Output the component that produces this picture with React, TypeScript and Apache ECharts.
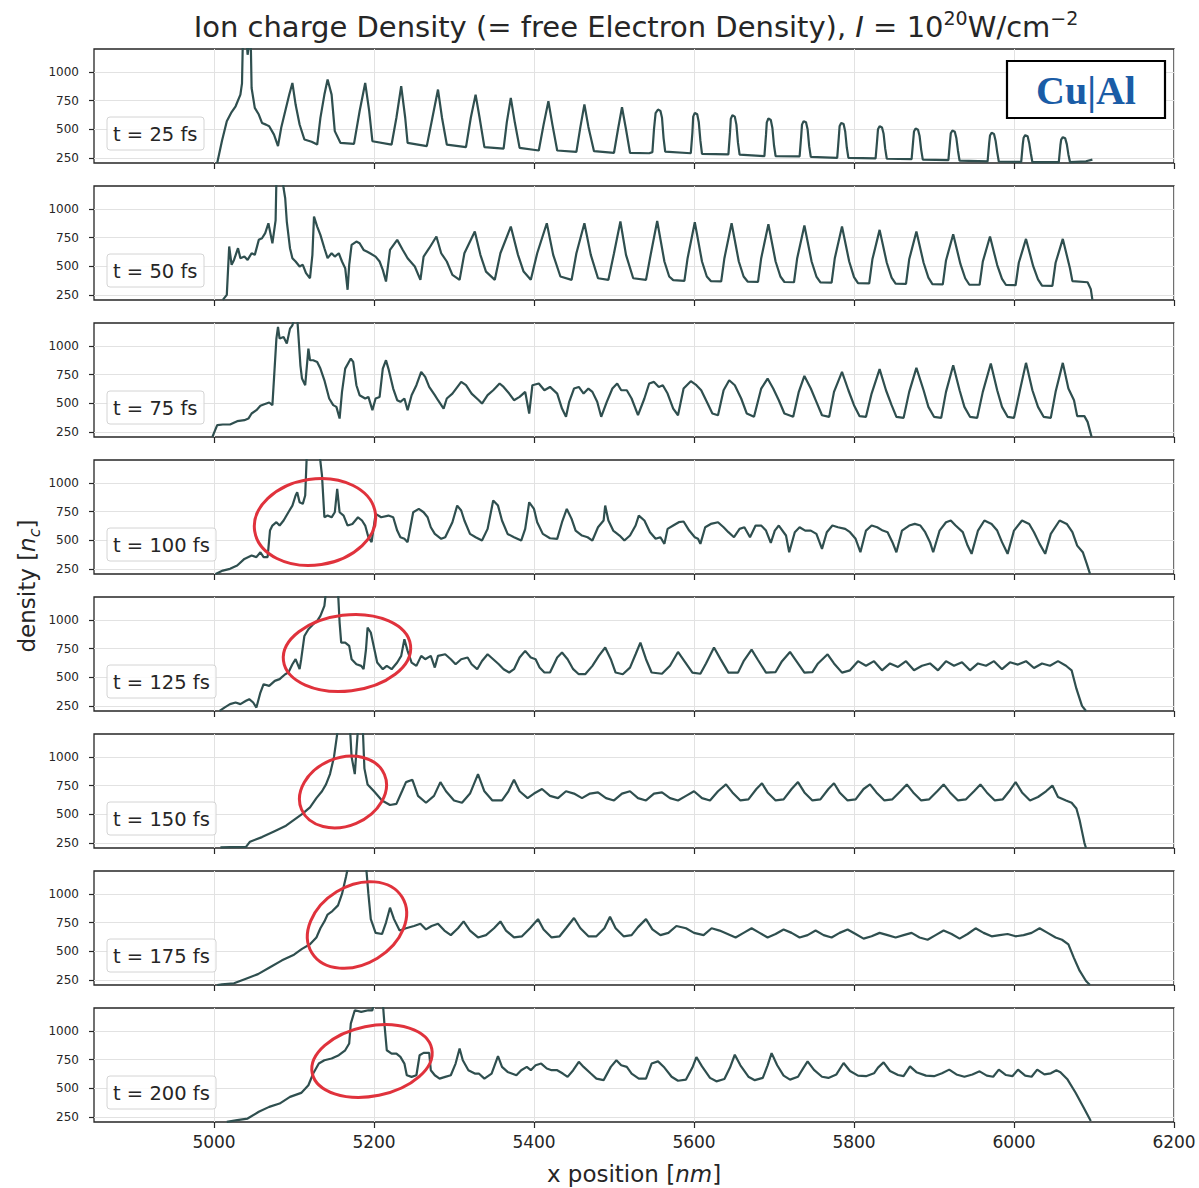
import React, { useEffect, useRef } from 'react';
import * as echarts from 'echarts';

const xTicks = [5000, 5200, 5400, 5600, 5800, 6000, 6200];
const yTicks = [250, 500, 750, 1000];
const timeLabels = ['t = 25 fs', 't = 50 fs', 't = 75 fs', 't = 100 fs', 't = 125 fs', 't = 150 fs', 't = 175 fs', 't = 200 fs'];

const t25: number[][] = [
  [5004,205],[5010,400],[5016,570],[5022,650],[5027,700],[5033,802],[5035,900],[5036,1250],[5041,1250],[5042,1150],[5044,1250],[5046,1250],[5047,860],[5051,686],[5056,628],[5060,555],[5065,540],[5069,526],[5075,453],[5080,352],[5084,512],[5089,657],[5094,800],[5098,904],[5102,715],[5107,541],[5113,410],[5122,390],[5129,366],[5133,599],[5138,802],[5142,933],[5147,802],[5151,483],[5158,381],[5175,372],[5182,657],[5189,904],[5194,657],[5198,395],[5222,366],[5228,600],[5234,875],[5239,600],[5242,381],[5266,352],[5273,600],[5280,846],[5285,600],[5291,366],[5315,343],[5321,600],[5327,802],[5332,600],[5338,343],[5362,331],[5366,560],[5371,773],[5376,560],[5382,337],[5406,314],[5412,540],[5418,744],[5423,540],[5429,314],[5453,302],[5458,520],[5463,715],[5468,520],[5475,308],[5500,294],[5505,500],[5510,692],[5515,500],[5520,294],[5544,290],
  [5548,300],[5550,500],[5552,640],[5555,672],[5558,660],[5560,600],[5562,420],[5564,305],
  [5596,290],[5598,470],[5599,610],[5601,642],[5604,630],[5606,560],[5608,400],[5610,285],
  [5643,280],[5645,470],[5646,590],[5648,622],[5651,610],[5653,540],[5655,380],[5657,278],
  [5688,265],[5690,450],[5691,560],[5693,593],[5696,580],[5698,510],[5700,360],[5702,265],
  [5732,262],[5734,440],[5735,540],[5737,570],[5740,560],[5742,500],[5744,350],[5746,258],
  [5779,250],[5781,430],[5782,525],[5784,555],[5787,545],[5789,480],[5791,340],[5793,250],
  [5827,245],[5829,410],[5830,500],[5832,526],[5835,515],[5837,460],[5839,330],[5841,242],
  [5872,238],[5874,400],[5875,480],[5877,506],[5880,495],[5882,440],[5884,320],[5886,235],
  [5918,230],[5920,390],[5921,465],[5923,488],[5926,478],[5928,420],[5930,310],[5932,225],
  [5967,220],[5969,380],[5970,445],[5972,468],[5975,458],[5977,400],[5979,300],[5981,218],
  [6009,214],[6011,370],[6012,425],[6014,448],[6017,438],[6019,380],[6021,290],[6023,212],
  [6056,212],[6058,360],[6059,410],[6061,430],[6064,420],[6066,370],[6068,280],[6070,213],
  [6090,220],[6098,235]
];

const t50: number[][] = [
  [5011,206],[5016,250],[5019,672],[5022,512],[5025,555],[5030,657],[5033,570],[5038,584],[5042,555],[5047,613],[5051,599],[5056,730],[5060,744],[5064,788],[5068,875],[5073,700],[5077,900],[5078,1250],[5086,1250],[5087,1180],[5089,1093],[5091,890],[5095,657],[5098,570],[5102,541],[5107,497],[5111,512],[5115,439],[5120,395],[5123,599],[5125,933],[5129,846],[5133,773],[5138,657],[5142,570],[5147,613],[5151,584],[5156,613],[5160,541],[5164,483],[5167,294],[5169,512],[5172,686],[5178,715],[5182,700],[5187,642],[5191,628],[5195,613],[5202,584],[5207,541],[5211,468],[5215,366],[5220,642],[5229,730],[5236,642],[5242,570],[5251,497],[5258,381],[5262,584],[5269,657],[5278,759],[5284,613],[5291,541],[5298,424],[5307,381],[5313,613],[5326,802],[5333,599],[5340,453],[5351,381],[5358,613],[5371,846],[5380,599],[5387,453],[5396,381],[5404,613],[5416,875],[5424,599],[5433,410],[5447,381],[5453,613],[5463,875],[5471,599],[5480,395],[5493,381],[5500,613],[5508,890],[5515,599],[5524,395],[5540,381],
  [5545,570],[5554,895],[5563,541],[5569,410],[5574,378],[5588,372],[5592,570],[5601,884],[5610,541],[5616,410],[5621,370],[5634,368],[5638,570],[5647,875],[5656,541],[5662,410],[5667,366],[5680,364],[5684,570],[5693,866],[5702,541],[5708,410],[5713,362],[5725,360],[5729,570],[5738,855],[5747,541],[5753,410],[5758,358],[5772,356],[5776,570],[5785,846],[5794,541],[5800,405],[5805,352],[5819,350],[5823,560],[5832,817],[5841,530],[5847,400],[5852,348],[5865,346],[5869,560],[5878,802],[5887,530],[5893,400],[5898,344],[5911,342],[5915,550],[5924,779],[5933,520],[5939,395],[5944,340],[5957,338],[5961,540],[5970,759],[5979,510],[5985,390],[5990,336],[6002,334],[6006,530],[6015,738],[6024,500],[6030,385],[6035,330],[6048,328],[6052,530],[6061,738],[6070,480],[6073,370],[6092,360],[6096,300],[6098,206]
];

const t75: number[][] = [
  [4998,206],[5004,308],[5011,314],[5020,314],[5029,343],[5038,352],[5043,366],[5047,410],[5053,439],[5058,477],[5062,488],[5069,506],[5073,483],[5078,1064],[5080,1166],[5082,1064],[5087,1078],[5091,1020],[5095,1151],[5098,1180],[5101,1250],[5104,1250],[5108,831],[5110,715],[5114,657],[5118,977],[5120,875],[5124,875],[5129,860],[5133,802],[5138,700],[5144,541],[5149,483],[5153,468],[5157,366],[5160,599],[5164,802],[5171,890],[5174,860],[5178,657],[5182,570],[5189,541],[5193,555],[5198,439],[5202,541],[5207,555],[5211,802],[5215,875],[5218,802],[5224,628],[5229,526],[5233,512],[5238,541],[5242,439],[5247,570],[5253,657],[5259,773],[5264,730],[5269,642],[5276,570],[5280,526],[5287,453],[5291,541],[5298,584],[5309,686],[5315,657],[5322,584],[5331,526],[5335,497],[5342,570],[5349,613],[5357,672],[5362,642],[5369,584],[5375,526],[5382,555],[5389,599],[5394,410],[5398,657],[5406,672],[5413,613],[5420,642],[5429,584],[5435,453],[5440,381],[5444,512],[5450,628],[5456,642],[5462,584],[5468,628],[5473,599],[5479,512],[5484,381],[5491,512],[5498,628],[5504,672],[5509,613],[5516,613],[5522,541],[5530,395],[5538,541],
  [5544,672],[5550,686],[5556,642],[5561,657],[5567,584],[5574,453],[5580,395],[5587,628],[5596,692],[5603,657],[5609,613],[5616,512],[5623,410],[5630,395],[5637,613],[5644,700],[5651,657],[5659,541],[5666,410],[5675,381],[5684,628],[5692,715],[5699,628],[5706,526],[5713,410],[5724,381],[5731,599],[5738,738],[5746,628],[5753,512],[5760,395],[5769,381],[5775,599],[5785,773],[5793,613],[5800,483],[5807,387],[5815,381],[5822,584],[5832,797],[5840,613],[5847,483],[5853,381],[5862,372],[5869,599],[5878,808],[5887,613],[5893,468],[5900,381],[5909,372],[5915,599],[5924,831],[5932,613],[5938,468],[5945,381],[5954,372],[5961,599],[5971,846],[5979,613],[5985,468],[5992,381],[6000,372],[6007,599],[6015,852],[6023,613],[6030,468],[6037,381],[6046,372],[6052,599],[6061,852],[6068,628],[6075,526],[6079,387],[6088,387],[6092,337],[6097,206]
];

const t100: number[][] = [
  [5002,206],[5011,235],[5020,250],[5029,279],[5038,337],[5047,366],[5053,352],[5058,395],[5062,352],[5067,352],[5070,584],[5073,628],[5078,657],[5082,628],[5087,672],[5093,744],[5098,802],[5102,890],[5104,919],[5107,831],[5111,817],[5114,890],[5116,1250],[5120,1250],[5132,1250],[5135,1064],[5138,700],[5142,715],[5147,700],[5151,744],[5154,948],[5157,744],[5162,715],[5167,628],[5173,642],[5180,700],[5185,672],[5189,628],[5193,526],[5197,483],[5202,730],[5209,700],[5218,715],[5224,700],[5229,584],[5233,526],[5238,512],[5242,483],[5249,744],[5256,773],[5262,744],[5267,700],[5271,613],[5276,555],[5284,512],[5289,526],[5298,657],[5304,802],[5309,759],[5313,672],[5320,555],[5327,526],[5335,497],[5342,599],[5349,846],[5355,802],[5360,672],[5367,555],[5375,526],[5384,497],[5389,599],[5394,831],[5400,773],[5404,657],[5411,555],[5420,517],[5429,512],[5435,657],[5441,773],[5447,686],[5452,584],[5460,541],[5467,526],[5473,497],[5480,613],[5487,672],[5489,802],[5493,672],[5499,584],[5507,541],[5513,497],[5520,541],[5527,628],[5531,715],[5538,672],
  [5545,570],[5552,512],[5558,526],[5563,468],[5567,599],[5574,628],[5581,657],[5587,663],[5594,584],[5601,526],[5605,512],[5608,468],[5614,613],[5621,642],[5630,657],[5637,613],[5643,570],[5650,526],[5657,599],[5663,613],[5670,526],[5677,628],[5684,628],[5690,584],[5696,477],[5701,584],[5706,628],[5715,541],[5719,395],[5726,570],[5732,613],[5739,584],[5746,584],[5753,555],[5760,424],[5766,570],[5773,628],[5780,613],[5789,599],[5795,570],[5802,512],[5808,395],[5815,584],[5822,628],[5829,613],[5836,584],[5842,570],[5848,483],[5853,395],[5860,584],[5869,628],[5876,642],[5883,628],[5889,570],[5895,483],[5899,395],[5907,584],[5915,657],[5921,672],[5927,628],[5936,570],[5942,453],[5947,381],[5955,584],[5963,672],[5972,642],[5979,584],[5985,483],[5992,381],[6000,584],[6010,672],[6019,642],[6025,570],[6032,468],[6039,381],[6046,555],[6057,672],[6066,642],[6073,570],[6079,453],[6086,395],[6091,294],[6095,206]
];

const t125: number[][] = [
  [5007,206],[5013,235],[5020,265],[5027,279],[5033,265],[5040,294],[5044,308],[5049,279],[5053,235],[5058,366],[5062,439],[5069,424],[5076,468],[5082,483],[5089,526],[5093,541],[5098,613],[5102,657],[5107,570],[5109,657],[5113,860],[5118,919],[5124,962],[5129,991],[5133,1035],[5138,1122],[5140,1250],[5155,1250],[5157,977],[5159,802],[5164,802],[5169,773],[5172,657],[5178,613],[5184,599],[5187,570],[5190,744],[5192,933],[5196,890],[5200,759],[5204,628],[5211,570],[5216,599],[5222,570],[5229,628],[5234,686],[5238,831],[5242,730],[5247,628],[5253,599],[5259,686],[5264,657],[5271,686],[5276,584],[5280,686],[5289,700],[5296,657],[5302,613],[5309,657],[5317,672],[5322,613],[5329,570],[5335,642],[5342,700],[5349,657],[5356,613],[5362,570],[5369,541],[5375,570],[5382,672],[5389,730],[5396,672],[5402,657],[5407,584],[5413,541],[5420,541],[5429,672],[5435,715],[5442,657],[5449,570],[5456,526],[5464,526],[5473,599],[5481,686],[5489,759],[5496,657],[5502,541],[5511,526],[5520,584],[5527,700],[5533,802],[5540,657],[5547,541],
  [5560,530],[5570,600],[5580,720],[5588,640],[5598,540],[5608,530],[5615,620],[5625,760],[5633,660],[5643,540],[5655,540],[5662,640],[5672,740],[5680,650],[5690,540],[5702,545],[5710,640],[5720,720],[5728,640],[5738,540],[5748,545],[5755,620],[5767,700],[5775,620],[5785,540],[5795,560],[5805,640],[5815,600],[5825,640],[5835,560],[5845,620],[5855,590],[5865,640],[5875,560],[5885,600],[5895,620],[5905,560],[5915,640],[5925,600],[5935,630],[5945,560],[5955,620],[5965,600],[5975,640],[5985,570],[5995,630],[6005,610],[6015,640],[6025,580],[6035,620],[6045,600],[6055,640],[6065,600],[6072,560],[6078,400],[6085,250],[6090,205]
];

const t150: number[][] = [
  [5008,210],[5020,212],[5040,215],[5045,260],[5060,300],[5075,350],[5090,400],[5100,450],[5110,500],[5120,560],[5128,640],[5135,700],[5140,760],[5145,850],[5150,1000],[5155,1250],[5170,1250],[5172,1000],[5176,850],[5180,1250],[5186,1250],[5188,900],[5192,760],[5200,700],[5210,620],[5220,580],[5228,590],[5235,700],[5240,780],[5248,800],[5255,660],[5265,600],[5275,660],[5283,780],[5290,700],[5300,620],[5310,600],[5320,680],[5330,850],[5338,700],[5348,620],[5360,620],[5368,700],[5375,800],[5382,700],[5392,640],[5400,680],[5410,720],[5420,660],[5430,640],[5440,700],[5450,680],[5460,640],[5470,680],[5480,690],[5490,640],[5500,620],[5510,680],[5520,700],[5530,640],[5540,620],[5550,680],[5560,690],[5570,640],[5580,620],[5590,660],[5600,700],[5610,640],[5620,620],[5630,700],[5640,760],[5648,690],[5658,620],[5668,630],[5678,720],[5685,770],[5692,690],[5702,620],[5712,630],[5722,720],[5730,780],[5738,690],[5748,620],[5758,630],[5768,720],[5775,770],[5782,690],[5792,620],[5802,630],[5812,720],[5820,760],[5828,690],[5838,620],[5848,630],[5858,700],[5866,760],[5874,690],[5884,620],[5894,630],[5904,700],[5912,760],[5920,690],[5930,620],[5940,630],[5950,700],[5958,760],[5966,690],[5976,620],[5986,630],[5994,700],[6002,780],[6010,690],[6020,620],[6030,650],[6040,700],[6048,750],[6055,650],[6065,620],[6072,600],[6078,550],[6082,450],[6085,350],[6088,250],[6090,205]
];

const t175: number[][] = [
  [5004,205],[5010,210],[5025,220],[5040,260],[5055,300],[5070,360],[5085,420],[5100,470],[5110,520],[5120,560],[5128,620],[5133,700],[5138,760],[5142,820],[5148,850],[5155,900],[5160,1000],[5165,1150],[5168,1250],[5190,1250],[5193,1000],[5196,780],[5202,660],[5210,650],[5215,750],[5220,880],[5225,780],[5232,680],[5240,700],[5250,720],[5258,740],[5265,690],[5272,720],[5280,740],[5288,680],[5296,640],[5305,700],[5312,760],[5320,680],[5330,620],[5340,640],[5350,700],[5358,760],[5365,680],[5375,620],[5385,630],[5395,700],[5405,780],[5412,690],[5422,620],[5432,630],[5440,700],[5450,790],[5458,700],[5468,630],[5478,630],[5488,700],[5495,800],[5502,700],[5512,630],[5522,640],[5530,710],[5540,780],[5548,690],[5558,640],[5568,660],[5578,720],[5590,700],[5600,660],[5612,640],[5622,700],[5632,680],[5642,650],[5652,620],[5662,660],[5672,700],[5682,660],[5692,620],[5702,650],[5712,690],[5722,660],[5732,620],[5742,640],[5752,680],[5762,640],[5772,620],[5782,660],[5792,690],[5802,650],[5812,610],[5822,630],[5832,660],[5842,640],[5852,620],[5862,640],[5872,660],[5882,620],[5892,600],[5902,640],[5912,680],[5922,650],[5932,610],[5942,650],[5952,700],[5962,660],[5972,630],[5982,640],[5992,650],[6002,630],[6012,640],[6022,660],[6032,700],[6042,660],[6052,620],[6060,600],[6068,560],[6075,440],[6082,330],[6090,240],[6095,205]
];

const t200: number[][] = [
  [5016,206],[5029,221],[5042,235],[5056,294],[5069,337],[5082,366],[5095,424],[5109,459],[5118,526],[5124,628],[5131,715],[5138,744],[5147,759],[5156,788],[5164,831],[5169,890],[5171,1064],[5176,1180],[5184,1166],[5193,1180],[5198,1180],[5200,1250],[5211,1250],[5213,1064],[5216,831],[5222,802],[5228,802],[5233,773],[5238,715],[5241,613],[5247,599],[5253,613],[5257,788],[5262,808],[5269,808],[5271,657],[5276,613],[5282,584],[5289,599],[5296,613],[5302,715],[5307,846],[5311,744],[5318,657],[5326,628],[5331,628],[5338,584],[5347,628],[5355,779],[5360,686],[5367,642],[5378,613],[5384,657],[5391,686],[5396,657],[5402,700],[5409,715],[5416,672],[5422,657],[5429,657],[5436,628],[5442,599],[5449,657],[5456,730],[5462,686],[5471,628],[5478,584],[5487,570],[5496,686],[5503,744],[5509,700],[5516,686],[5522,628],[5531,584],[5540,584],[5547,715],
  [5555,734],[5563,680],[5572,600],[5580,565],[5590,575],[5598,680],[5603,772],[5610,690],[5620,590],[5628,560],[5638,580],[5645,680],[5651,792],[5658,700],[5668,600],[5676,570],[5686,590],[5692,700],[5697,806],[5704,700],[5712,610],[5720,575],[5730,600],[5737,680],[5742,734],[5750,660],[5760,600],[5768,590],[5778,620],[5787,720],[5795,650],[5805,610],[5815,605],[5825,630],[5830,680],[5837,725],[5845,650],[5855,615],[5862,605],[5870,691],[5878,640],[5890,610],[5900,605],[5910,630],[5919,662],[5928,620],[5938,600],[5948,620],[5957,647],[5966,610],[5974,600],[5981,662],[5990,615],[5998,605],[6005,662],[6014,610],[6022,600],[6029,662],[6038,620],[6046,630],[6053,656],[6058,640],[6067,575],[6077,460],[6086,344],[6096,214]
];

const panels = [t25, t50, t75, t100, t125, t150, t175, t200];

export default function App() {
  const ref = useRef<HTMLDivElement>(null);
  useEffect(() => {
    const chart = echarts.init(ref.current as HTMLDivElement, null, { renderer: 'svg' });
    const tops = [49, 186, 323, 460, 597, 734, 871, 1008];
    const H = 114;
    const font = 'DejaVu Sans';
    const ink = '#262626';
    const plain = (v: number) => String(v);
    const grid = tops.map((t) => ({
      left: 94, top: t, width: 1080, height: H, show: true,
      borderColor: ink, borderWidth: 1.3, backgroundColor: '#fff', containLabel: false,
    }));
    const xAxis = tops.map((t, i) => ({
      type: 'value', gridIndex: i, min: 4850, max: 6200,
      axisLine: { show: false },
      axisTick: { show: true, customValues: xTicks, length: 6, lineStyle: { color: ink, width: 1.2 } },
      axisLabel: { show: i === 7, customValues: xTicks, formatter: plain, fontSize: 17, color: ink, fontFamily: font, margin: 11 },
      splitLine: { show: true, lineStyle: { color: '#e2e2e2', width: 1 } },
    }));
    const yAxis = tops.map((t, i) => ({
      type: 'value', gridIndex: i, min: 205, max: 1200,
      axisLine: { show: false },
      axisTick: { show: true, customValues: yTicks, length: 5, lineStyle: { color: ink, width: 1.2 } },
      axisLabel: { customValues: yTicks, formatter: plain, fontSize: 12, color: ink, fontFamily: font, margin: 15 },
      splitLine: { show: true, lineStyle: { color: '#e2e2e2', width: 1 } },
    }));
    const series = panels.map((d, i) => ({
      type: 'line', xAxisIndex: i, yAxisIndex: i, data: d, showSymbol: false, symbol: 'none',
      clip: true, silent: true, lineStyle: { color: '#2f4f4f', width: 2.2 }, z: 3,
    }));

    const graphics: any[] = [];
    tops.forEach((t, i) => {
      const w = timeLabels[i].length > 9 ? 109 : 97;
      graphics.push({
        type: 'rect', shape: { x: 107, y: t + 68, width: w, height: 33, r: 3 },
        style: { fill: 'rgba(255,255,255,0.85)', stroke: '#d4d4d4', lineWidth: 1 }, z: 10,
      });
      graphics.push({
        type: 'text', x: 113, y: t + 85,
        style: { text: timeLabels[i], fontSize: 19.5, fontFamily: font, fill: ink, verticalAlign: 'middle', align: 'left' }, z: 11,
      });
    });
    const ells = [
      { cx: 315, cy: 522, rx: 61, ry: 43, r: 0.15 },
      { cx: 347, cy: 653, rx: 64, ry: 38, r: 0.12 },
      { cx: 343, cy: 792, rx: 45, ry: 34, r: 0.4 },
      { cx: 357, cy: 925, rx: 53, ry: 39, r: 0.55 },
      { cx: 372, cy: 1061, rx: 61, ry: 35, r: 0.2 },
    ];
    ells.forEach((e) => {
      graphics.push({
        type: 'ellipse', x: e.cx, y: e.cy, rotation: e.r,
        shape: { cx: 0, cy: 0, rx: e.rx, ry: e.ry },
        style: { fill: 'none', stroke: '#e0323c', lineWidth: 3 }, z: 12,
      });
    });
    graphics.push({
      type: 'rect', shape: { x: 1007, y: 61, width: 158, height: 57 },
      style: { fill: '#fff', stroke: '#000', lineWidth: 2.2 }, z: 10,
    });
    graphics.push({
      type: 'text', x: 1086, y: 90,
      style: { text: 'Cu|Al', fontSize: 40, fontWeight: 'bold', fontFamily: 'Liberation Serif', fill: '#1a5ca6', align: 'center', verticalAlign: 'middle' }, z: 11,
    });
    graphics.push({
      type: 'text', x: 636, y: 27,
      style: {
        text: '{a|Ion charge Density (= free Electron Density), }{i|I}{a| = 10}{s|20}{a|W/cm}{s|\u22122}',
        align: 'center', verticalAlign: 'middle',
        rich: {
          a: { fontSize: 29, fontFamily: font, fill: ink, lineHeight: 38 },
          i: { fontSize: 29, fontFamily: font, fill: ink, fontStyle: 'italic', lineHeight: 38 },
          s: { fontSize: 19, fontFamily: font, fill: ink, verticalAlign: 'top', lineHeight: 38 },
        },
      }, z: 11,
    });
    graphics.push({
      type: 'text', x: 634, y: 1174,
      style: {
        text: '{a|x position [}{i|nm}{a|]}', align: 'center', verticalAlign: 'middle',
        rich: {
          a: { fontSize: 23, fontFamily: font, fill: ink },
          i: { fontSize: 23, fontFamily: font, fill: ink, fontStyle: 'italic' },
        },
      }, z: 11,
    });
    graphics.push({
      type: 'text', x: 27, y: 586, rotation: Math.PI / 2,
      style: {
        text: '{a|density [}{i|n}{s|c}{a|]}', align: 'center', verticalAlign: 'middle',
        rich: {
          a: { fontSize: 23, fontFamily: font, fill: ink, lineHeight: 30 },
          i: { fontSize: 23, fontFamily: font, fill: ink, fontStyle: 'italic', lineHeight: 30 },
          s: { fontSize: 16, fontFamily: font, fill: ink, fontStyle: 'italic', verticalAlign: 'bottom', lineHeight: 30 },
        },
      }, z: 11,
    });

    chart.setOption({
      animation: false,
      backgroundColor: '#fff',
      grid, xAxis, yAxis, series,
      graphic: { elements: graphics },
    } as any);
    return () => chart.dispose();
  }, []);
  return <div ref={ref} style={{ position: 'absolute', left: 0, top: 0, width: 1199, height: 1188 }} />;
}
